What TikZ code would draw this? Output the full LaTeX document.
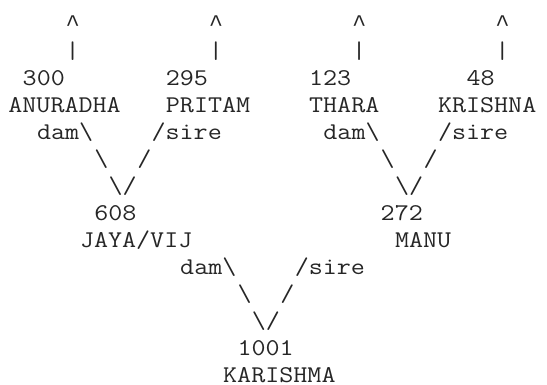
\documentclass[tikz,border=0pt]{standalone}
\usepackage{fontspec}
\usepackage{tikz}
\newfontfamily\asciifont[FakeStretch=1.1365]{Latin Modern Mono}
\newfontfamily\caretfont{Liberation Mono}
\tikzset{
  cell/.style={font=\asciifont\fontsize{12}{13.5}\selectfont, inner sep=0pt, anchor=base west, text=black!85},
  arm/.style={cell},
  tip/.style={cell, font=\caretfont\fontsize{11.93}{13.5}\selectfont}
}
\begin{document}
\begin{tikzpicture}[x=7.16pt, y=-13.5pt]
      \useasboundingbox[fill=white] (-4pt,2.25pt) rectangle (269.5pt,-190.25pt);
      % top arrows
      \node[tip] (upA) at (4,1) {\char"5E};
      \node[tip] (upB) at (14,1) {\char"5E};
      \node[tip] (upC) at (24,1) {\char"5E};
      \node[tip] (upD) at (34,1) {\char"5E};
      \node[arm] (barA) at (4,2) {|};
      \node[arm] (barB) at (14,2) {|};
      \node[arm] (barC) at (24,2) {|};
      \node[arm] (barD) at (34,2) {|};
      % grandparents
      \node[cell] (n300) at (1,3) {300};
      \node[cell] (n295) at (11,3) {295};
      \node[cell] (n123) at (21,3) {123};
      \node[cell] (n48) at (32,3) {48};
      \node[cell] (anuradha) at (0,4) {ANURADHA};
      \node[cell] (pritam) at (11,4) {PRITAM};
      \node[cell] (thara) at (21,4) {THARA};
      \node[cell] (krishna) at (30,4) {KRISHNA};
      \node[arm] (damA) at (2,5) {dam\textbackslash};
      \node[arm] (sireA) at (10,5) {/sire};
      \node[arm] (damB) at (22,5) {dam\textbackslash};
      \node[arm] (sireB) at (30,5) {/sire};
      \node[arm] (bsA) at (6,6) {\textbackslash};
      \node[arm] (fsA) at (9,6) {/};
      \node[arm] (bsB) at (26,6) {\textbackslash};
      \node[arm] (fsB) at (29,6) {/};
      \node[arm] (vA) at (7,7) {\textbackslash/};
      \node[arm] (vB) at (27,7) {\textbackslash/};
      % parents
      \node[cell] (n608) at (6,8) {608};
      \node[cell] (n272) at (26,8) {272};
      \node[cell] (jaya) at (5,9) {JAYA/VIJ};
      \node[cell] (manu) at (27,9) {MANU};
      \node[arm] (damC) at (12,10) {dam\textbackslash};
      \node[arm] (sireC) at (20,10) {/sire};
      \node[arm] (bsC) at (16,11) {\textbackslash};
      \node[arm] (fsC) at (19,11) {/};
      \node[arm] (vC) at (17,12) {\textbackslash/};
      % child
      \node[cell] (n1001) at (16,13) {1001};
      \node[cell] (karishma) at (15,14) {KARISHMA};
    \end{tikzpicture}
\end{document}
